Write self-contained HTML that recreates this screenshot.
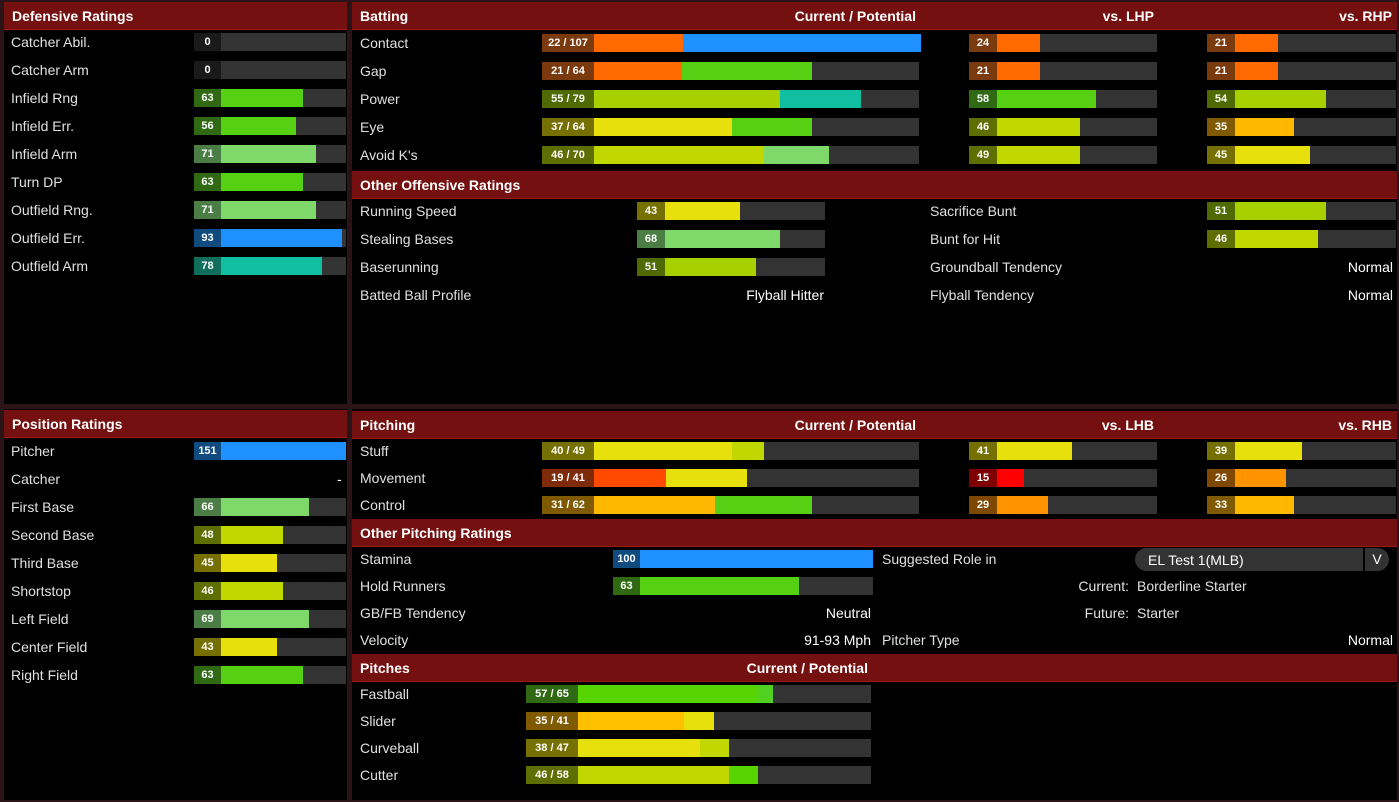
<!DOCTYPE html>
<html><head><meta charset="utf-8"><style>
*{margin:0;padding:0;box-sizing:border-box}
body{width:1399px;height:802px;background:#2a1418;position:relative;overflow:hidden;font-family:"Liberation Sans",sans-serif;color:#e0e0e0}
.p{position:absolute;background:#000}
.h{position:absolute;background:#74100f;color:#fff;font-weight:bold;font-size:14px;line-height:29px;padding-left:8px;border-bottom:1px solid #9a1a18}
.t{position:absolute;font-size:14px;line-height:18px;height:18px;white-space:nowrap}
.r{text-align:right}
.w{color:#fff}
.g{position:absolute;height:18px;background:#333}
.k{position:absolute;height:18px;color:#fff;font-weight:bold;font-size:11px;line-height:18px;text-align:center}
.s{position:absolute;height:18px}
</style></head><body>
<div class="p" style="left:4px;top:2px;width:343px;height:402px"></div>
<div class="p" style="left:352px;top:2px;width:1045px;height:402px"></div>
<div class="p" style="left:4px;top:409px;width:343px;height:391px"></div>
<div class="p" style="left:352px;top:409px;width:1045px;height:391px"></div>

<!-- Defensive -->
<div class="h" style="left:4px;top:2px;width:343px;height:28px">Defensive Ratings</div>
<div class="t" style="left:11px;top:33px">Catcher Abil.</div>
<div class="t" style="left:11px;top:61px">Catcher Arm</div>
<div class="t" style="left:11px;top:89px">Infield Rng</div>
<div class="t" style="left:11px;top:117px">Infield Err.</div>
<div class="t" style="left:11px;top:145px">Infield Arm</div>
<div class="t" style="left:11px;top:173px">Turn DP</div>
<div class="t" style="left:11px;top:201px">Outfield Rng.</div>
<div class="t" style="left:11px;top:229px">Outfield Err.</div>
<div class="t" style="left:11px;top:257px">Outfield Arm</div>

<div class="g" style="left:194px;top:33px;width:152px"></div><div class="k" style="left:194px;top:33px;width:27px;background:#1a1a1a">0</div>
<div class="g" style="left:194px;top:61px;width:152px"></div><div class="k" style="left:194px;top:61px;width:27px;background:#1a1a1a">0</div>
<div class="g" style="left:194px;top:89px;width:152px"></div><div class="k" style="left:194px;top:89px;width:27px;background:#2f6a12">63</div><div class="s" style="left:221px;top:89px;width:82px;background:#55d012"></div>
<div class="g" style="left:194px;top:117px;width:152px"></div><div class="k" style="left:194px;top:117px;width:27px;background:#2f6a12">56</div><div class="s" style="left:221px;top:117px;width:75px;background:#55d012"></div>
<div class="g" style="left:194px;top:145px;width:152px"></div><div class="k" style="left:194px;top:145px;width:27px;background:#4a7e44">71</div><div class="s" style="left:221px;top:145px;width:95px;background:#7ed86a"></div>
<div class="g" style="left:194px;top:173px;width:152px"></div><div class="k" style="left:194px;top:173px;width:27px;background:#2f6a12">63</div><div class="s" style="left:221px;top:173px;width:82px;background:#55d012"></div>
<div class="g" style="left:194px;top:201px;width:152px"></div><div class="k" style="left:194px;top:201px;width:27px;background:#4a7e44">71</div><div class="s" style="left:221px;top:201px;width:95px;background:#7ed86a"></div>
<div class="g" style="left:194px;top:229px;width:152px"></div><div class="k" style="left:194px;top:229px;width:27px;background:#0f4b7f">93</div><div class="s" style="left:221px;top:229px;width:121px;background:#1e90ff"></div>
<div class="g" style="left:194px;top:257px;width:152px"></div><div class="k" style="left:194px;top:257px;width:27px;background:#0f6e5c">78</div><div class="s" style="left:221px;top:257px;width:101px;background:#10bfa0"></div>

<!-- Position -->
<div class="h" style="left:4px;top:410px;width:343px;height:28px">Position Ratings</div>
<div class="t" style="left:11px;top:442px">Pitcher</div>
<div class="t" style="left:11px;top:470px">Catcher</div>
<div class="t" style="left:11px;top:498px">First Base</div>
<div class="t" style="left:11px;top:526px">Second Base</div>
<div class="t" style="left:11px;top:554px">Third Base</div>
<div class="t" style="left:11px;top:582px">Shortstop</div>
<div class="t" style="left:11px;top:610px">Left Field</div>
<div class="t" style="left:11px;top:638px">Center Field</div>
<div class="t" style="left:11px;top:666px">Right Field</div>
<div class="t w" style="left:337px;top:470px">-</div>
<div class="g" style="left:194px;top:442px;width:152px"></div><div class="k" style="left:194px;top:442px;width:27px;background:#0f4b7f">151</div><div class="s" style="left:221px;top:442px;width:125px;background:#1e90ff"></div>
<div class="g" style="left:194px;top:498px;width:152px"></div><div class="k" style="left:194px;top:498px;width:27px;background:#4a7e44">66</div><div class="s" style="left:221px;top:498px;width:88px;background:#7ed86a"></div>
<div class="g" style="left:194px;top:526px;width:152px"></div><div class="k" style="left:194px;top:526px;width:27px;background:#5e6e00">48</div><div class="s" style="left:221px;top:526px;width:62px;background:#c0d800"></div>
<div class="g" style="left:194px;top:554px;width:152px"></div><div class="k" style="left:194px;top:554px;width:27px;background:#767000">45</div><div class="s" style="left:221px;top:554px;width:56px;background:#e8e00c"></div>
<div class="g" style="left:194px;top:582px;width:152px"></div><div class="k" style="left:194px;top:582px;width:27px;background:#5e6e00">46</div><div class="s" style="left:221px;top:582px;width:62px;background:#c0d800"></div>
<div class="g" style="left:194px;top:610px;width:152px"></div><div class="k" style="left:194px;top:610px;width:27px;background:#4a7e44">69</div><div class="s" style="left:221px;top:610px;width:88px;background:#7ed86a"></div>
<div class="g" style="left:194px;top:638px;width:152px"></div><div class="k" style="left:194px;top:638px;width:27px;background:#767000">43</div><div class="s" style="left:221px;top:638px;width:56px;background:#e8e00c"></div>
<div class="g" style="left:194px;top:666px;width:152px"></div><div class="k" style="left:194px;top:666px;width:27px;background:#2f6a12">63</div><div class="s" style="left:221px;top:666px;width:82px;background:#55d012"></div>

<!-- Batting -->
<div class="h" style="left:352px;top:2px;width:1045px;height:28px">Batting</div>
<div class="t w r" style="left:700px;top:7px;width:216px;font-weight:bold">Current / Potential</div>
<div class="t w r" style="left:1000px;top:7px;width:154px;font-weight:bold">vs. LHP</div>
<div class="t w r" style="left:1240px;top:7px;width:152px;font-weight:bold">vs. RHP</div>
<div class="t" style="left:360px;top:34px">Contact</div>
<div class="t" style="left:360px;top:62px">Gap</div>
<div class="t" style="left:360px;top:90px">Power</div>
<div class="t" style="left:360px;top:118px">Eye</div>
<div class="t" style="left:360px;top:146px">Avoid K's</div>

<div class="g" style="left:542px;top:34px;width:377px"></div><div class="k" style="left:542px;top:34px;width:52px;background:#7a3a0e">22 / 107</div><div class="s" style="left:594px;top:34px;width:89px;background:#ff6a00"></div><div class="s" style="left:683px;top:34px;width:238px;background:#1e90ff"></div>
<div class="g" style="left:542px;top:62px;width:377px"></div><div class="k" style="left:542px;top:62px;width:52px;background:#7a3a0e">21 / 64</div><div class="s" style="left:594px;top:62px;width:88px;background:#ff6a00"></div><div class="s" style="left:682px;top:62px;width:130px;background:#55d012"></div>
<div class="g" style="left:542px;top:90px;width:377px"></div><div class="k" style="left:542px;top:90px;width:52px;background:#4f6a00">55 / 79</div><div class="s" style="left:594px;top:90px;width:186px;background:#a8d000"></div><div class="s" style="left:780px;top:90px;width:81px;background:#10bfa0"></div>
<div class="g" style="left:542px;top:118px;width:377px"></div><div class="k" style="left:542px;top:118px;width:52px;background:#767000">37 / 64</div><div class="s" style="left:594px;top:118px;width:138px;background:#e8e00c"></div><div class="s" style="left:732px;top:118px;width:80px;background:#55d012"></div>
<div class="g" style="left:542px;top:146px;width:377px"></div><div class="k" style="left:542px;top:146px;width:52px;background:#5e6e00">46 / 70</div><div class="s" style="left:594px;top:146px;width:170px;background:#c0d800"></div><div class="s" style="left:764px;top:146px;width:65px;background:#7ed86a"></div>

<div class="g" style="left:969px;top:34px;width:188px"></div><div class="k" style="left:969px;top:34px;width:28px;background:#7a3a0e">24</div><div class="s" style="left:997px;top:34px;width:43px;background:#ff6a00"></div>
<div class="g" style="left:969px;top:62px;width:188px"></div><div class="k" style="left:969px;top:62px;width:28px;background:#7a3a0e">21</div><div class="s" style="left:997px;top:62px;width:43px;background:#ff6a00"></div>
<div class="g" style="left:969px;top:90px;width:188px"></div><div class="k" style="left:969px;top:90px;width:28px;background:#2f6a12">58</div><div class="s" style="left:997px;top:90px;width:99px;background:#55d012"></div>
<div class="g" style="left:969px;top:118px;width:188px"></div><div class="k" style="left:969px;top:118px;width:28px;background:#5e6e00">46</div><div class="s" style="left:997px;top:118px;width:83px;background:#c0d800"></div>
<div class="g" style="left:969px;top:146px;width:188px"></div><div class="k" style="left:969px;top:146px;width:28px;background:#5e6e00">49</div><div class="s" style="left:997px;top:146px;width:83px;background:#c0d800"></div>

<div class="g" style="left:1207px;top:34px;width:189px"></div><div class="k" style="left:1207px;top:34px;width:28px;background:#7a3a0e">21</div><div class="s" style="left:1235px;top:34px;width:43px;background:#ff6a00"></div>
<div class="g" style="left:1207px;top:62px;width:189px"></div><div class="k" style="left:1207px;top:62px;width:28px;background:#7a3a0e">21</div><div class="s" style="left:1235px;top:62px;width:43px;background:#ff6a00"></div>
<div class="g" style="left:1207px;top:90px;width:189px"></div><div class="k" style="left:1207px;top:90px;width:28px;background:#4f6a00">54</div><div class="s" style="left:1235px;top:90px;width:91px;background:#a8d000"></div>
<div class="g" style="left:1207px;top:118px;width:189px"></div><div class="k" style="left:1207px;top:118px;width:28px;background:#7f5a00">35</div><div class="s" style="left:1235px;top:118px;width:59px;background:#ffb800"></div>
<div class="g" style="left:1207px;top:146px;width:189px"></div><div class="k" style="left:1207px;top:146px;width:28px;background:#767000">45</div><div class="s" style="left:1235px;top:146px;width:75px;background:#e8e00c"></div>

<div class="h" style="left:352px;top:171px;width:1045px;height:28px">Other Offensive Ratings</div>
<div class="t" style="left:360px;top:202px">Running Speed</div>
<div class="t" style="left:360px;top:230px">Stealing Bases</div>
<div class="t" style="left:360px;top:258px">Baserunning</div>
<div class="t" style="left:360px;top:286px">Batted Ball Profile</div>
<div class="t w r" style="left:640px;top:286px;width:184px">Flyball Hitter</div>
<div class="g" style="left:637px;top:202px;width:188px"></div><div class="k" style="left:637px;top:202px;width:28px;background:#767000">43</div><div class="s" style="left:665px;top:202px;width:75px;background:#e8e00c"></div>
<div class="g" style="left:637px;top:230px;width:188px"></div><div class="k" style="left:637px;top:230px;width:28px;background:#4a7e44">68</div><div class="s" style="left:665px;top:230px;width:115px;background:#7ed86a"></div>
<div class="g" style="left:637px;top:258px;width:188px"></div><div class="k" style="left:637px;top:258px;width:28px;background:#4f6a00">51</div><div class="s" style="left:665px;top:258px;width:91px;background:#a8d000"></div>
<div class="t" style="left:930px;top:202px">Sacrifice Bunt</div>
<div class="t" style="left:930px;top:230px">Bunt for Hit</div>
<div class="t" style="left:930px;top:258px">Groundball Tendency</div>
<div class="t" style="left:930px;top:286px">Flyball Tendency</div>
<div class="t w r" style="left:1200px;top:258px;width:193px">Normal</div>
<div class="t w r" style="left:1200px;top:286px;width:193px">Normal</div>
<div class="g" style="left:1207px;top:202px;width:189px"></div><div class="k" style="left:1207px;top:202px;width:28px;background:#4f6a00">51</div><div class="s" style="left:1235px;top:202px;width:91px;background:#a8d000"></div>
<div class="g" style="left:1207px;top:230px;width:189px"></div><div class="k" style="left:1207px;top:230px;width:28px;background:#5e6e00">46</div><div class="s" style="left:1235px;top:230px;width:83px;background:#c0d800"></div>

<!-- Pitching -->
<div class="h" style="left:352px;top:411px;width:1045px;height:28px">Pitching</div>
<div class="t w r" style="left:700px;top:416px;width:216px;font-weight:bold">Current / Potential</div>
<div class="t w r" style="left:1000px;top:416px;width:154px;font-weight:bold">vs. LHB</div>
<div class="t w r" style="left:1240px;top:416px;width:152px;font-weight:bold">vs. RHB</div>
<div class="t" style="left:360px;top:442px">Stuff</div>
<div class="t" style="left:360px;top:469px">Movement</div>
<div class="t" style="left:360px;top:496px">Control</div>
<div class="g" style="left:542px;top:442px;width:377px"></div><div class="k" style="left:542px;top:442px;width:52px;background:#767000">40 / 49</div><div class="s" style="left:594px;top:442px;width:138px;background:#e8e00c"></div><div class="s" style="left:732px;top:442px;width:32px;background:#c0d800"></div>
<div class="g" style="left:542px;top:469px;width:377px"></div><div class="k" style="left:542px;top:469px;width:52px;background:#7f2a08">19 / 41</div><div class="s" style="left:594px;top:469px;width:72px;background:#ff4a00"></div><div class="s" style="left:666px;top:469px;width:81px;background:#e8e00c"></div>
<div class="g" style="left:542px;top:496px;width:377px"></div><div class="k" style="left:542px;top:496px;width:52px;background:#7f5a00">31 / 62</div><div class="s" style="left:594px;top:496px;width:121px;background:#ffb800"></div><div class="s" style="left:715px;top:496px;width:97px;background:#55d012"></div>
<div class="g" style="left:969px;top:442px;width:188px"></div><div class="k" style="left:969px;top:442px;width:28px;background:#767000">41</div><div class="s" style="left:997px;top:442px;width:75px;background:#e8e00c"></div>
<div class="g" style="left:969px;top:469px;width:188px"></div><div class="k" style="left:969px;top:469px;width:28px;background:#7f0000">15</div><div class="s" style="left:997px;top:469px;width:27px;background:#ff0000"></div>
<div class="g" style="left:969px;top:496px;width:188px"></div><div class="k" style="left:969px;top:496px;width:28px;background:#7f4800">29</div><div class="s" style="left:997px;top:496px;width:51px;background:#ff9400"></div>
<div class="g" style="left:1207px;top:442px;width:189px"></div><div class="k" style="left:1207px;top:442px;width:28px;background:#767000">39</div><div class="s" style="left:1235px;top:442px;width:67px;background:#e8e00c"></div>
<div class="g" style="left:1207px;top:469px;width:189px"></div><div class="k" style="left:1207px;top:469px;width:28px;background:#7f4800">26</div><div class="s" style="left:1235px;top:469px;width:51px;background:#ff9400"></div>
<div class="g" style="left:1207px;top:496px;width:189px"></div><div class="k" style="left:1207px;top:496px;width:28px;background:#7f5a00">33</div><div class="s" style="left:1235px;top:496px;width:59px;background:#ffb800"></div>

<div class="h" style="left:352px;top:519px;width:1045px;height:28px">Other Pitching Ratings</div>
<div class="t" style="left:360px;top:550px">Stamina</div>
<div class="t" style="left:360px;top:577px">Hold Runners</div>
<div class="t" style="left:360px;top:604px">GB/FB Tendency</div>
<div class="t" style="left:360px;top:631px">Velocity</div>
<div class="t w r" style="left:640px;top:604px;width:231px">Neutral</div>
<div class="t w r" style="left:640px;top:631px;width:231px">91-93 Mph</div>
<div class="g" style="left:613px;top:550px;width:260px"></div><div class="k" style="left:613px;top:550px;width:27px;background:#0f4b7f">100</div><div class="s" style="left:640px;top:550px;width:233px;background:#1e90ff"></div>
<div class="g" style="left:613px;top:577px;width:260px"></div><div class="k" style="left:613px;top:577px;width:27px;background:#2f6a12">63</div><div class="s" style="left:640px;top:577px;width:159px;background:#55d012"></div>
<div class="t" style="left:882px;top:550px">Suggested Role in</div>
<div style="position:absolute;left:1135px;top:548px;width:228px;height:23px;background:#333;border-radius:12px 0 0 12px"></div>
<div style="position:absolute;left:1365px;top:548px;width:24px;height:23px;background:#333;border-radius:0 12px 12px 0;color:#fff;font-size:14px;line-height:23px;text-align:center">V</div>
<div class="t w" style="left:1148px;top:551px">EL Test 1(MLB)</div>
<div class="t r" style="left:1000px;top:577px;width:129px">Current:</div>
<div class="t" style="left:1137px;top:577px">Borderline Starter</div>
<div class="t r" style="left:1000px;top:604px;width:129px">Future:</div>
<div class="t" style="left:1137px;top:604px">Starter</div>
<div class="t" style="left:882px;top:631px">Pitcher Type</div>
<div class="t w r" style="left:1200px;top:631px;width:193px">Normal</div>

<div class="h" style="left:352px;top:654px;width:1045px;height:28px">Pitches</div>
<div class="t w r" style="left:652px;top:659px;width:216px;font-weight:bold">Current / Potential</div>
<div class="t" style="left:360px;top:685px">Fastball</div>
<div class="t" style="left:360px;top:712px">Slider</div>
<div class="t" style="left:360px;top:739px">Curveball</div>
<div class="t" style="left:360px;top:766px">Cutter</div>
<div class="g" style="left:526px;top:685px;width:345px"></div><div class="k" style="left:526px;top:685px;width:52px;background:#2f6a12">57 / 65</div><div class="s" style="left:578px;top:685px;width:180px;background:#55d400"></div><div class="s" style="left:758px;top:685px;width:15px;background:#50d020"></div>
<div class="g" style="left:526px;top:712px;width:345px"></div><div class="k" style="left:526px;top:712px;width:52px;background:#7f5a00">35 / 41</div><div class="s" style="left:578px;top:712px;width:106px;background:#ffc000"></div><div class="s" style="left:684px;top:712px;width:30px;background:#e8e00c"></div>
<div class="g" style="left:526px;top:739px;width:345px"></div><div class="k" style="left:526px;top:739px;width:52px;background:#767000">38 / 47</div><div class="s" style="left:578px;top:739px;width:122px;background:#e8e00c"></div><div class="s" style="left:700px;top:739px;width:29px;background:#c0d800"></div>
<div class="g" style="left:526px;top:766px;width:345px"></div><div class="k" style="left:526px;top:766px;width:52px;background:#5e6e00">46 / 58</div><div class="s" style="left:578px;top:766px;width:151px;background:#c0d800"></div><div class="s" style="left:729px;top:766px;width:29px;background:#55d400"></div>
</body></html>
